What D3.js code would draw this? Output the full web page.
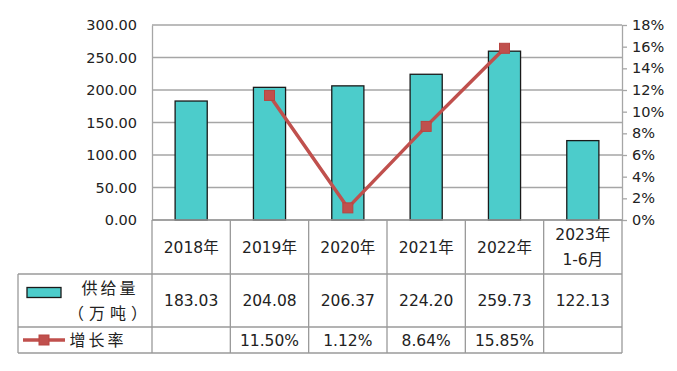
<!DOCTYPE html>
<html lang="zh">
  <head>
    <meta charset="utf-8">
    <title>供给量与增长率</title>
    <script src="https://d3js.org/d3.v7.min.js"></script>
    <style>
      body { margin: 0; background: #fff; }
      text { font-family: "DejaVu Sans", "Noto Sans CJK SC", sans-serif; fill: #222; }
    </style>
  </head>
  <body>
    <div id="chart"></div>
    <script>
      // data
      var categories = ["2018年", "2019年", "2020年", "2021年", "2022年", "2023年\n1-6月"];
      var supply = [183.03, 204.08, 206.37, 224.20, 259.73, 122.13];
      var growth = [null, 11.50, 1.12, 8.64, 15.85, null];
      var leftTicks = [0, 50, 100, 150, 200, 250, 300];
      var rightTicks = [0, 2, 4, 6, 8, 10, 12, 14, 16, 18];
      var supplyName = ["供给量", "（万吨）"];
      var growthName = "增长率";

      var W = 677, H = 371;
      var plot = {left: 152, right: 622, top: 25, bottom: 220};
      var tableLeft = 18;
      var rowY = [220, 274, 327, 353]; // header, supply row, growth row, bottom

      var BAR_FILL = "#4ccccb";
      var LINE_COL = "#c0504d";
      var GRID_COL = "#a6a6a6";

      var svg = d3.select("#chart").append("svg")
        .attr("width", W)
        .attr("height", H);

      var x = d3.scaleBand()
        .domain(categories)
        .range([plot.left, plot.right])
        .paddingInner(0)
        .paddingOuter(0);

      var yLeft = d3.scaleLinear()
        .domain([0, 300])
        .range([plot.bottom, plot.top]);

      var yRight = d3.scaleLinear()
        .domain([0, 18])
        .range([plot.bottom, plot.top]);

      //gridlines
      svg.append("g")
        .selectAll("line")
        .data(leftTicks)
        .join("line")
          .attr("x1", plot.left)
          .attr("x2", plot.right)
          .attr("y1", d => yLeft(d))
          .attr("y2", d => yLeft(d))
          .attr("stroke", GRID_COL)
          .attr("stroke-width", 1.3);

      //left axis (labels only)
      var leftAxis = svg.append("g")
        .attr("transform", `translate(${plot.left},0)`)
        .call(d3.axisLeft(yLeft).tickValues(leftTicks).tickSize(0).tickPadding(15).tickFormat(d3.format(".2f")));
      leftAxis.select(".domain").attr("stroke", GRID_COL).attr("stroke-width", 1.3);
      leftAxis.selectAll("text").style("font-size", "14.5px").attr("fill", "#222");

      //right axis
      var rightAxis = svg.append("g")
        .attr("transform", `translate(${plot.right},0)`)
        .call(d3.axisRight(yRight).tickValues(rightTicks).tickSizeInner(5).tickSizeOuter(0).tickPadding(5).tickFormat(d => d + "%"));
      rightAxis.select(".domain").attr("stroke", GRID_COL).attr("stroke-width", 1.3);
      rightAxis.selectAll(".tick line").attr("stroke", GRID_COL).attr("stroke-width", 1.3);
      rightAxis.selectAll("text").style("font-size", "14.5px").attr("fill", "#222");

      //bars
      var barW = x.bandwidth() * 0.41;
      svg.append("g")
        .selectAll("rect")
        .data(supply)
        .join("rect")
          .attr("x", (d, i) => x(categories[i]) + x.bandwidth() / 2 - barW / 2)
          .attr("y", d => yLeft(d))
          .attr("width", barW)
          .attr("height", d => yLeft(0) - yLeft(d))
          .attr("fill", BAR_FILL)
          .attr("stroke", "#1a1a1a")
          .attr("stroke-width", 1.3);

      //growth line
      var pts = growth.map((d, i) => ({v: d, c: categories[i]}));
      var line = d3.line()
        .defined(d => d.v != null)
        .x(d => x(d.c) + x.bandwidth() / 2)
        .y(d => yRight(d.v));

      svg.append("path")
        .datum(pts)
        .attr("d", line)
        .attr("fill", "none")
        .attr("stroke", LINE_COL)
        .attr("stroke-width", 3.5);

      var MK = 10;
      svg.append("g")
        .selectAll("rect")
        .data(pts.filter(d => d.v != null))
        .join("rect")
          .attr("x", d => x(d.c) + x.bandwidth() / 2 - MK / 2)
          .attr("y", d => yRight(d.v) - MK / 2)
          .attr("width", MK)
          .attr("height", MK)
          .attr("fill", LINE_COL)
          .attr("stroke", "#b84440")
          .attr("stroke-width", 1);

      //data table
      var tbl = svg.append("g")
        .attr("stroke", "#9a9a9a")
        .attr("stroke-width", 1.3);

      // column separators
      var colEdges = categories.map(c => x(c)).concat([plot.right]);
      tbl.selectAll("line.col")
        .data(colEdges)
        .join("line")
          .attr("class", "col")
          .attr("x1", d => d)
          .attr("x2", d => d)
          .attr("y1", rowY[0])
          .attr("y2", rowY[3]);

      tbl.append("line")
        .attr("x1", tableLeft).attr("x2", tableLeft)
        .attr("y1", rowY[1]).attr("y2", rowY[3]);

      tbl.append("line")
        .attr("x1", plot.left).attr("x2", plot.right)
        .attr("y1", rowY[0]).attr("y2", rowY[0]);

      tbl.selectAll("line.row")
        .data(rowY.slice(1))
        .join("line")
          .attr("class", "row")
          .attr("x1", tableLeft)
          .attr("x2", plot.right)
          .attr("y1", d => d)
          .attr("y2", d => d);

      var FS = "15.5px";

      // header cells
      var head = svg.append("g").selectAll("text")
        .data(categories)
        .join("text")
          .attr("x", d => x(d) + x.bandwidth() / 2)
          .attr("text-anchor", "middle")
          .style("font-size", FS);
      head.each(function(d) {
        var lines = d.split("\n");
        var mid = (rowY[0] + rowY[1]) / 2;
        var t = d3.select(this);
        lines.forEach(function(s, k) {
          t.append("tspan")
            .attr("x", x(d) + x.bandwidth() / 2)
            .attr("y", mid + (k - (lines.length - 1) / 2) * 25)
            .attr("dy", "0.36em")
            .text(s);
        });
      });

      // supply row
      svg.append("g").selectAll("text")
        .data(supply)
        .join("text")
          .attr("x", (d, i) => x(categories[i]) + x.bandwidth() / 2)
          .attr("y", (rowY[1] + rowY[2]) / 2)
          .attr("dy", "0.36em")
          .attr("text-anchor", "middle")
          .style("font-size", FS)
          .text(d => d3.format(".2f")(d));

      // growth row
      svg.append("g").selectAll("text")
        .data(pts.filter(d => d.v != null))
        .join("text")
          .attr("x", d => x(d.c) + x.bandwidth() / 2)
          .attr("y", (rowY[2] + rowY[3]) / 2)
          .attr("dy", "0.36em")
          .attr("text-anchor", "middle")
          .style("font-size", FS)
          .text(d => d3.format(".2f")(d.v) + "%");

      // legend cells
      var r1 = (rowY[1] + rowY[2]) / 2;
      svg.append("rect")
        .attr("x", 27).attr("y", r1 - 13)
        .attr("width", 34).attr("height", 10)
        .attr("fill", BAR_FILL)
        .attr("stroke", "#1a1a1a")
        .attr("stroke-width", 1.3);
      supplyName.forEach(function(s, k) {
        svg.append("text")
          .attr("x", 110)
          .attr("y", r1 + (k - 0.5) * 25)
          .attr("dy", "0.36em")
          .attr("text-anchor", "middle")
          .style("font-size", "16px")
          .style("letter-spacing", k == 0 ? "3px" : "5px")
          .text(s);
      });

      var r2 = (rowY[2] + rowY[3]) / 2;
      svg.append("line")
        .attr("x1", 23).attr("x2", 65)
        .attr("y1", r2).attr("y2", r2)
        .attr("stroke", LINE_COL)
        .attr("stroke-width", 3.5);
      svg.append("rect")
        .attr("x", 44 - MK / 2).attr("y", r2 - MK / 2)
        .attr("width", MK).attr("height", MK)
        .attr("fill", LINE_COL)
        .attr("stroke", "#b84440");
      svg.append("text")
        .attr("x", 98)
        .attr("y", r2)
        .attr("dy", "0.36em")
        .attr("text-anchor", "middle")
        .style("font-size", "16px")
        .style("letter-spacing", "3px")
        .text(growthName);
    </script>
  </body>
</html>
